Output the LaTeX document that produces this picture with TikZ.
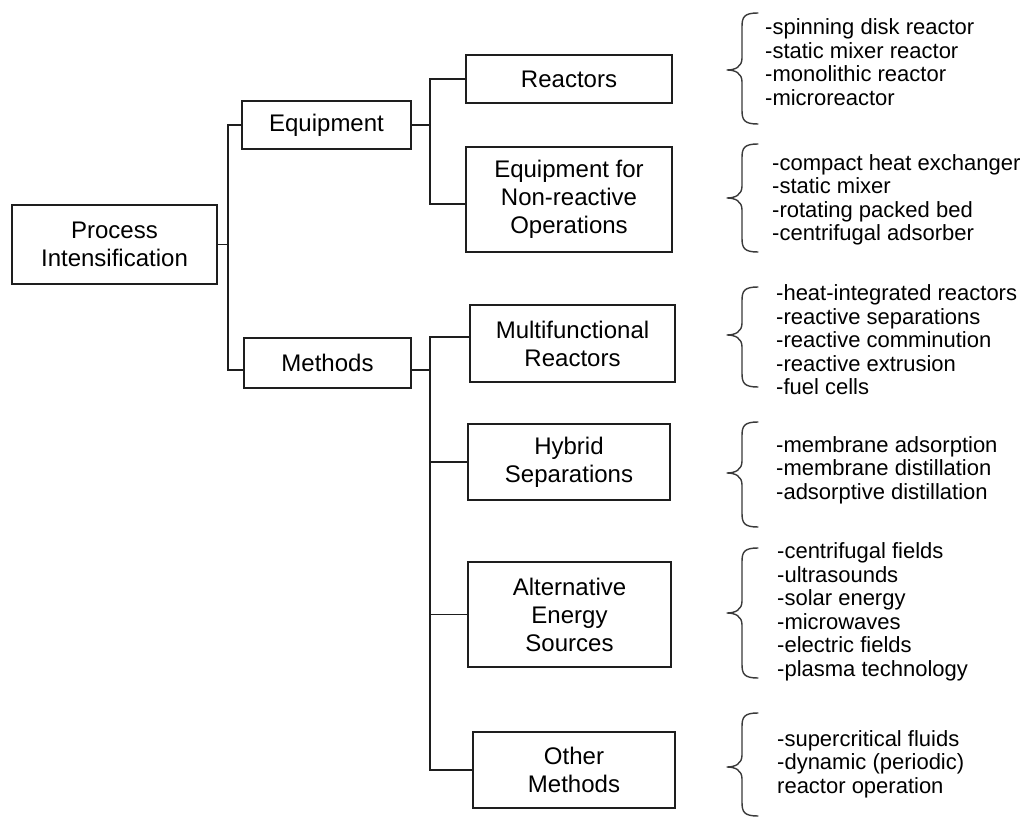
\documentclass[tikz,border=0pt]{standalone}
\usepackage{fontspec}
\setmainfont{Liberation Sans}
\definecolor{linec}{HTML}{1E1E1E}
\definecolor{bracec}{HTML}{3A3A3A}
% curly brace in front of a list: top y, tip y, bottom y
\newcommand{\ListBrace}[3]{%
  \draw[bracestyle] (758,#1) .. controls (744,#1) and (742,#1+4) .. (742,#1+14)
    -- (742,#2-12) .. controls (742,#2-3) and (735,#2) .. (727,#2)
    .. controls (735,#2) and (742,#2+3) .. (742,#2+12)
    -- (742,#3-14) .. controls (742,#3-4) and (744,#3) .. (758,#3);}
\begin{document}
\begin{tikzpicture}[x=1pt,y=-1pt,
  box/.style={draw=linec, line width=1.5pt, align=center, inner sep=0pt,
    font=\fontsize{24}{28}\selectfont, text=black},
  link/.style={draw=linec, line width=1.5pt},
  items/.style={anchor=west, align=left, inner sep=0pt,
    font=\fontsize{22}{23.5}\selectfont, text=black},
  bracestyle/.style={draw=bracec, line width=1.4pt, line cap=round, line join=round}]
\useasboundingbox[fill=white] (0,0) rectangle (1029,818);

% boxes
\node[box, minimum width=205pt, minimum height=79pt] (pi) at (114.5,244.5) {Process\\Intensification};
\node[box, minimum width=169pt, minimum height=48pt] (eq) at (326.5,125) {Equipment};
\node[box, minimum width=167pt, minimum height=50pt] (me) at (327.5,363) {Methods};
\node[box, minimum width=206pt, minimum height=48pt] (rx) at (569,79) {Reactors};
\node[box, minimum width=206pt, minimum height=105pt] (nr) at (569,199.5) {Equipment for\\Non-reactive\\Operations};
\node[box, minimum width=205pt, minimum height=77pt] (mf) at (572.5,343.5) {Multifunctional\\Reactors};
\node[box, minimum width=202pt, minimum height=76pt] (hy) at (569,462) {Hybrid\\Separations};
\node[box, minimum width=203pt, minimum height=105pt] (ae) at (569.5,614.5) {Alternative\\Energy\\Sources};
\node[box, minimum width=202pt, minimum height=76pt] (ot) at (574,770) {Other\\Methods};

% trunks of the tree
\coordinate (t0) at (228,0);
\coordinate (t1) at (430,0);
\coordinate (meL) at ([yshift=-7pt]me.west);
\coordinate (meR) at ([yshift=-7pt]me.east);
\coordinate (nrL) at ([yshift=-4.5pt]nr.west);
\coordinate (mfL) at ([yshift=6.5pt]mf.west);

\draw[link] (pi.east) -- (pi.east -| t0);
\draw[link] (eq.west) -- (eq.west -| t0) -- (meL -| t0) -- (meL);
\draw[link] (eq.east) -- (eq.east -| t1);
\draw[link] (rx.west) -- (rx.west -| t1) -- (nrL -| t1) -- (nrL);
\draw[link] (meR) -- (meR -| t1);
\draw[link] (mfL) -- (mfL -| t1) -- (ot.west -| t1) -- (ot.west);
\draw[link] (hy.west) -- (hy.west -| t1);
\draw[link] (ae.west) -- (ae.west -| t1);

% braces
\ListBrace{13}{70}{124}
\ListBrace{144}{198}{252}
\ListBrace{287}{335}{387}
\ListBrace{422}{473}{527}
\ListBrace{548}{613}{678}
\ListBrace{713}{767}{816}

% lists
\node[items] (l1) at (765,62) {-spinning disk reactor\\-static mixer reactor\\-monolithic reactor\\-microreactor};
\node[items] (l2) at (772,200) {-compact heat exchanger\\-static mixer\\-rotating packed bed\\-centrifugal adsorber};
\node[items] (l3) at (776,340) {-heat-integrated reactors\\-reactive separations\\-reactive comminution\\-reactive extrusion\\-fuel cells};
\node[items] (l4) at (776,470) {-membrane adsorption\\-membrane distillation\\-adsorptive distillation};
\node[items] (l5) at (777,612) {-centrifugal fields\\-ultrasounds\\-solar energy\\-microwaves\\-electric fields\\-plasma technology};
\node[items] (l6) at (777,764) {-supercritical fluids\\-dynamic (periodic)\\reactor operation};
\end{tikzpicture}
\end{document}
